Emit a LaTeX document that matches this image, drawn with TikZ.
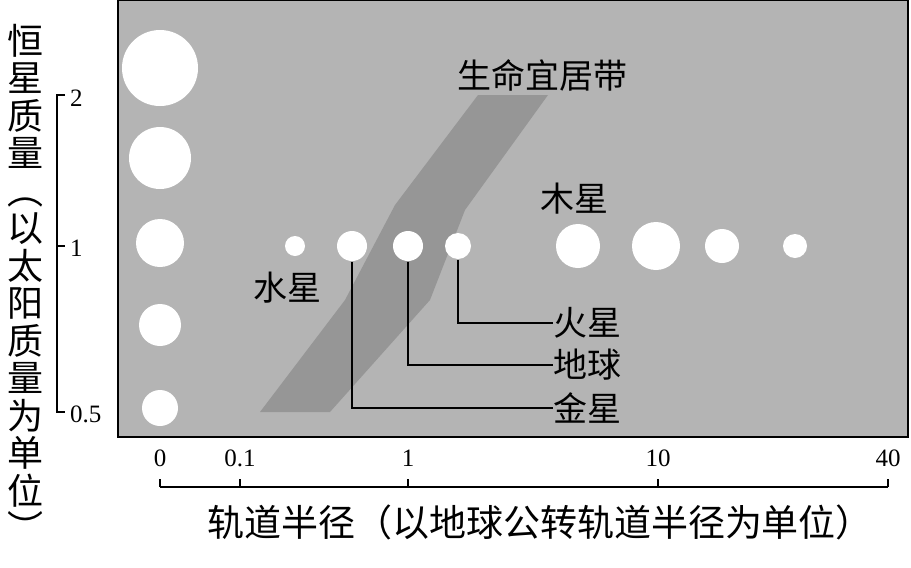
\documentclass[tikz,border=0pt]{standalone}
\usepackage{fontspec}
\setmainfont{Liberation Serif}
\newfontfamily\cjk{Noto Sans CJK SC}
\begin{document}
\begin{tikzpicture}[x=1pt,y=-1pt,
  dot/.style={fill=white,draw=none},
  lbl/.style={font=\cjk\fontsize{34}{34}\selectfont,inner sep=0},
  num/.style={font=\fontsize{25}{25}\selectfont,inner sep=0},
  ln/.style={line width=1.2pt}]
\useasboundingbox (0,0) rectangle (911,568);
\fill[fill={rgb,255:red,180;green,180;blue,180}] (118,0) rectangle (908,437);
\draw[line width=1.5pt] (118,0) rectangle (908,437);
\fill[fill={rgb,255:red,150;green,150;blue,150}] (260,412) -- (330,412) -- (430,300) -- (465,210) -- (548,95) -- (478,95) -- (395,205) -- (345,300) -- cycle;
\foreach \y/\r in {68/38,158/31,243/24,325/21,408/18} \fill[dot] (160,\y) circle (\r);
\foreach \x/\r in {295/10,352/15,408/15,458/13,578/22,656/24,722/17,795/12} \fill[dot] (\x,246) circle (\r);
\coordinate (p1) at (352,262); \coordinate (p2) at (408,262); \coordinate (p3) at (458,260);
\node[lbl,anchor=west] (venus) at (553,408) {金星};
\node[lbl,anchor=west] (earth) at (553,365) {地球};
\node[lbl,anchor=west] (mars) at (553,323) {火星};
\draw[ln] (p1) |- (venus.west);
\draw[ln] (p2) |- (earth.west);
\draw[ln] (p3) |- (mars.west);
\node[lbl] (hz) at (542,75) {生命宜居带};
\node[lbl] (jup) at (574,199) {木星};
\node[lbl] (mer) at (287,288) {水星};
\draw[ln] (65,95) -- (57,95) -- (57,412) -- (65,412);
\draw[ln] (57,246) -- (65,246);
\node[num,anchor=west] (y2) at (70,98) {2};
\node[num,anchor=west] (y1) at (70,248) {1};
\node[num,anchor=west] (y05) at (70,414) {0.5};
\node[lbl,align=center,font=\cjk\fontsize{36}{37.5}\selectfont] (ytitle) at (26,283) {恒\\星\\质\\量\\︵\\以\\太\\阳\\质\\量\\为\\单\\位\\︶};
\draw[ln] (160,487) -- (888,487);
\foreach \x/\t in {160/0,240/0.1,408/1,658/10,888/40} {
  \draw[ln] (\x,479) -- (\x,487);
  \node[num] at (\x,458) {\t};}
\node[lbl,font=\cjk\fontsize{37}{37}\selectfont] (xtitle) at (540,522) {轨道半径（以地球公转轨道半径为单位）};
\end{tikzpicture}
\end{document}
